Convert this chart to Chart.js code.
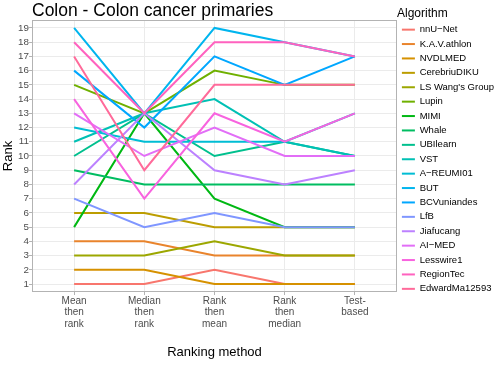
<!DOCTYPE html>
<html>
<head>
<meta charset="utf-8">
<script src="https://cdn.jsdelivr.net/npm/chart.js@4"></script>
<style>html,body{margin:0;padding:0;background:#fff}canvas{display:block}</style>
</head>
<body>
<canvas id="c" width="498" height="374"></canvas>
<script>
// ---- data ----
const methods = ["Mean then rank", "Median then rank", "Rank then mean", "Rank then median", "Test-based"];
const methodLabels = [["Mean", "then", "rank"], ["Median", "then", "rank"], ["Rank", "then", "mean"], ["Rank", "then", "median"], ["Test-", "based"]];
const algorithms = ["nnU\u2212Net", "K.A.V.athlon", "NVDLMED", "CerebriuDIKU", "LS Wang's Group", "Lupin", "MIMI", "Whale", "UBIlearn", "VST", "A\u2212REUMI01", "BUT", "BCVuniandes", "LfB", "Jiafucang", "AI\u2212MED", "Lesswire1", "RegionTec", "EdwardMa12593"];
const meanThenRank   = [1, 4, 2, 6, 3, 15, 5, 9, 10, 11, 12, 19, 16, 7, 8, 13, 14, 18, 17];
const medianThenRank = [1, 4, 2, 6, 3, 13, 13, 8, 13, 13, 11, 13, 12, 5, 13, 10, 7, 13, 9];
const rankThenMean   = [2, 3, 1, 5, 4, 16, 7, 8, 10, 14, 11, 19, 17, 6, 9, 12, 13, 18, 15];
const rankThenMedian = [1, 3, 1, 5, 3, 15, 5, 8, 11, 11, 11, 18, 15, 5, 8, 10, 11, 18, 15];
const testBased      = [1, 3, 1, 5, 3, 15, 5, 8, 10, 10, 13, 17, 17, 5, 9, 10, 13, 17, 15];
const rankTicks = [1, 2, 3, 4, 5, 6, 7, 8, 9, 10, 11, 12, 13, 14, 15, 16, 17, 18, 19];

// ---- styling helpers ----
const FONT = "'Liberation Sans', Arial, Helvetica, sans-serif";
function hclHex(h, c, l) {
  const hr = h * Math.PI / 180;
  const U = c * Math.cos(hr), V = c * Math.sin(hr);
  const Y = l > 8 ? Math.pow((l + 16) / 116, 3) : l / 903.3;
  const Xn = 0.95047, Yn = 1.0, Zn = 1.08883;
  const den = Xn + 15 * Yn + 3 * Zn;
  const un = 4 * Xn / den, vn = 9 * Yn / den;
  const u = U / (13 * l) + un, v = V / (13 * l) + vn;
  const X = Y * 9 * u / (4 * v);
  const Z = Y * (12 - 3 * u - 20 * v) / (4 * v);
  const lin = [
    3.2404542 * X - 1.5371385 * Y - 0.4985314 * Z,
    -0.9692660 * X + 1.8760108 * Y + 0.0415560 * Z,
    0.0556434 * X - 0.2040259 * Y + 1.0572252 * Z
  ];
  return '#' + lin.map(t => {
    let s = t <= 0.0031308 ? 12.92 * t : 1.055 * Math.pow(t, 1 / 2.4) - 0.055;
    s = Math.max(0, Math.min(1, s));
    return Math.round(s * 255).toString(16).padStart(2, '0');
  }).join('');
}
function hueColor(i, n) { return hclHex(15 + i * 360 / n, 100, 65); }

const series = [meanThenRank, medianThenRank, rankThenMean, rankThenMedian, testBased];
const n = algorithms.length;
const datasets = algorithms.map((name, i) => ({
  label: name,
  data: series.map((arr, m) => ({ x: m, y: arr[i] })),
  borderColor: hueColor(i, n),
  backgroundColor: hueColor(i, n),
  borderWidth: 2,
  pointRadius: 0,
  pointHoverRadius: 0,
  tension: 0,
  fill: false,
  order: n - i
}));

const frame = {
  id: 'frame',
  afterDatasetsDraw(chart) {
    const a = chart.chartArea, ctx = chart.ctx;
    ctx.save();
    ctx.strokeStyle = '#B3B3B3';
    ctx.lineWidth = 1;
    ctx.strokeRect(a.left + 0.5, a.top + 0.5, a.right - a.left - 1, a.bottom - a.top - 1);
    ctx.restore();
  }
};

new Chart(document.getElementById('c'), {
  type: 'line',
  data: { datasets },
  plugins: [frame],
  options: {
    responsive: false,
    animation: false,
    events: [],
    layout: { padding: 0 },
    scales: {
      x: {
        type: 'linear', min: -0.6, max: 4.6,
        afterBuildTicks: s => { s.ticks = methods.map((_, i) => ({ value: i })); },
        afterFit: s => { s.height = 82; },
        grid: { color: '#EBEBEB', lineWidth: 1, tickColor: '#B3B3B3', tickLength: 3 },
        border: { display: false },
        ticks: {
          autoSkip: false, maxRotation: 0, minRotation: 0, padding: 0,
          color: '#4D4D4D', font: { family: FONT, size: 10, lineHeight: 1.17 },
          callback: v => methodLabels[v]
        },
        title: {
          display: true, text: 'Ranking method', color: '#000',
          font: { family: FONT, size: 13, lineHeight: 1.2 },
          padding: { top: 0, bottom: 14 }
        }
      },
      y: {
        type: 'linear', min: 0.44, max: 19.56,
        afterBuildTicks: s => { s.ticks = rankTicks.map(v => ({ value: v })); },
        afterFit: s => { s.width = 32; },
        grid: { color: '#EBEBEB', lineWidth: 1, tickColor: '#B3B3B3', tickLength: 3 },
        border: { display: false },
        ticks: {
          autoSkip: false, padding: 0,
          color: '#4D4D4D', font: { family: FONT, size: 9.8 },
          callback: v => String(v)
        },
        title: {
          display: true, text: 'Rank', color: '#000',
          font: { family: FONT, size: 13, lineHeight: 1.2 },
          padding: { top: 1, bottom: 0 }
        }
      }
    },
    plugins: {
      tooltip: { enabled: false },
      title: {
        display: true, text: 'Colon - Colon cancer primaries', align: 'start', fullSize: false,
        color: '#000', font: { family: FONT, size: 17.5, weight: 'normal', lineHeight: 1 },
        padding: { top: 2, bottom: 0.5 }
      },
      legend: {
        position: 'right', align: 'start', maxWidth: 101,
        title: {
          display: true, text: 'Algorithm', color: '#000', position: 'start',
          font: { family: FONT, size: 12, lineHeight: 1 },
          padding: { top: 8, bottom: 0 }
        },
        labels: {
          usePointStyle: true, pointStyle: 'line', pointStyleWidth: 13,
          color: '#000', font: { family: FONT, size: 9.5 }, padding: 4.9,
          sort: (a, b) => a.datasetIndex - b.datasetIndex
        }
      }
    }
  }
});
</script>
</body>
</html>
